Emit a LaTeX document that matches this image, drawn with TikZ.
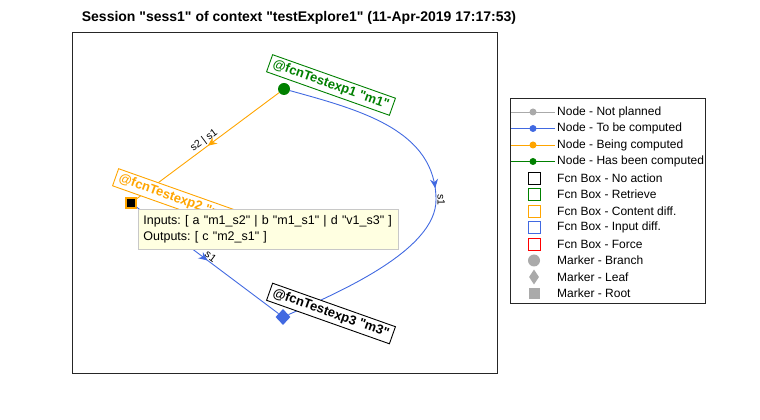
\documentclass[tikz,border=0pt]{standalone}
\usepackage{fontspec}
\setmainfont{Liberation Sans}[Ligatures=TeXOff]
\usepackage{xcolor}
\usepackage{tikz}
\usetikzlibrary{shapes.geometric,arrows.meta,positioning,calc,decorations.markings}

\definecolor{nodeblue}{RGB}{65,105,225}
\definecolor{nodeorange}{RGB}{255,165,0}
\definecolor{nodegreen}{RGB}{0,128,0}
\definecolor{nodegray}{RGB}{170,170,170}
\definecolor{tipyellow}{RGB}{255,255,225}
\definecolor{tipframe}{RGB}{200,200,200}
\definecolor{axframe}{RGB}{38,38,38}

\tikzset{
  fcnbox/.style={draw=#1, text=#1, fill=white, line width=0.9pt, rotate=-19.5,
    inner xsep=4pt, inner ysep=3pt, font=\fontsize{13}{15}\selectfont\bfseries},
  edgelbl/.style={font=\fontsize{10.5}{12}\selectfont, text=black, sloped, above, inner sep=1pt},
  midarrow/.style={postaction={decorate}, decoration={markings,
    mark=at position #1 with {\arrow{Stealth[length=9pt,width=8pt,inset=3pt]}}}},
  legtext/.style={anchor=west, font=\fontsize{12}{13}\selectfont, inner sep=0pt},
  legbox/.style={draw=#1, line width=0.8pt, minimum size=12pt, inner sep=0pt},
  legdot/.style={circle, fill=#1, minimum size=7pt, inner sep=0pt},
}

\begin{document}
\frenchspacing
\begin{tikzpicture}[x=1pt, y=1pt]
    \useasboundingbox (0,0) rectangle (760,420);

    % Title
    \node[font=\fontsize{14}{16}\selectfont\bfseries] (title) at (299,402)
        {Session "sess1" of context "testExplore1" (11-Apr-2019 17:17:53)};

    % Axes frame
    \draw[axframe, line width=0.8pt] (72,47) rectangle (497,388);

    % Graph nodes (markers)
    \node[circle, fill=nodegreen, minimum size=12pt, inner sep=0pt] (m1) at (284,331) {};
    \node[fill=black, draw=nodeorange, line width=1.5pt, minimum size=10pt, inner sep=0pt] (m2) at (131,217) {};
    \node[diamond, fill=nodeblue, minimum width=15pt, minimum height=16pt, inner sep=0pt] (m3) at (283,103) {};
    \coordinate (bend) at (436,220);

    % Edges
    \draw[nodeorange, line width=0.9pt, midarrow=0.5] (m1) -- node[edgelbl] (e12) {s2 | s1} (m2);
    \draw[nodeblue, line width=0.9pt, midarrow=0.94] (m1) .. controls (360,310) and (436,290) .. (bend)
        node[edgelbl, pos=1] (e13) {s1};
    \draw[nodeblue, line width=0.9pt] (bend) .. controls (436,170) and (340,128) .. (m3);
    \draw[nodeblue, line width=0.9pt, midarrow=0.5] (m2) -- node[edgelbl] (e23) {s1} (m3);

    % Fcn boxes
    \node[fcnbox=nodegreen] (m1box) at ($(m1)+(47,4)$) {@fcnTestexp1 "m1"};
    \node[fcnbox=nodeorange] (m2box) at ($(m2)+(46,4)$) {@fcnTestexp2 "m2"};
    \node[fcnbox=black] (m3box) at ($(m3)+(48,3.5)$) {@fcnTestexp3 "m3"};

    % Tooltip
    \node[draw=tipframe, fill=tipyellow, line width=0.8pt, anchor=north west, align=left,
        text width=250pt, inner xsep=5pt, inner ysep=6pt, font=\fontsize{12.5}{16.5}\selectfont]
        (tip) at (138,211)
        {Inputs: [ a "m1\_s2" | b "m1\_s1" | d "v1\_s3" ]\\Outputs: [ c "m2\_s1" ]};

    % Legend
    \draw[axframe, line width=0.8pt] (510,117) rectangle (705,322);
    \draw[nodegray, line width=0.8pt] (511,308) -- (555,308);
    \node[legdot=nodegray] (d1) at (533,308) {};
    \node[legtext] (lg1) at (557,308) {Node - Not planned};
    \draw[nodeblue, line width=0.8pt] (511,291.5) -- (555,291.5);
    \node[legdot=nodeblue] (d2) at (533,291.5) {};
    \node[legtext] (lg2) at (557,291.5) {Node - To be computed};
    \draw[nodeorange, line width=0.8pt] (511,275) -- (555,275);
    \node[legdot=nodeorange] (d3) at (533,275) {};
    \node[legtext] (lg3) at (557,275) {Node - Being computed};
    \draw[nodegreen, line width=0.8pt] (511,258.5) -- (555,258.5);
    \node[legdot=nodegreen] (d4) at (533,258.5) {};
    \node[legtext] (lg4) at (557,258.5) {Node - Has been computed};
    \node[legbox=black] (b1) at (534,242) {};
    \node[legtext] (lg5) at (557,242) {Fcn Box - No action};
    \node[legbox=nodegreen] (b2) at (534,225.5) {};
    \node[legtext] (lg6) at (557,225.5) {Fcn Box - Retrieve};
    \node[legbox=nodeorange] (b3) at (534,209) {};
    \node[legtext] (lg7) at (557,209) {Fcn Box - Content diff.};
    \node[legbox=nodeblue] (b4) at (534,192.5) {};
    \node[legtext] (lg8) at (557,192.5) {Fcn Box - Input diff.};
    \node[legbox=red] (b5) at (534,176) {};
    \node[legtext] (lg9) at (557,176) {Fcn Box - Force};
    \node[circle, fill=nodegray, minimum size=12pt, inner sep=0pt] (k1) at (534,159.5) {};
    \node[legtext] (lg10) at (557,159.5) {Marker - Branch};
    \node[diamond, fill=nodegray, minimum width=10pt, minimum height=15pt, inner sep=0pt] (k2) at (534,143) {};
    \node[legtext] (lg11) at (557,143) {Marker - Leaf};
    \node[fill=nodegray, minimum size=11pt, inner sep=0pt] (k3) at (534,126.5) {};
    \node[legtext] (lg12) at (557,126.5) {Marker - Root};
\end{tikzpicture}
\end{document}
